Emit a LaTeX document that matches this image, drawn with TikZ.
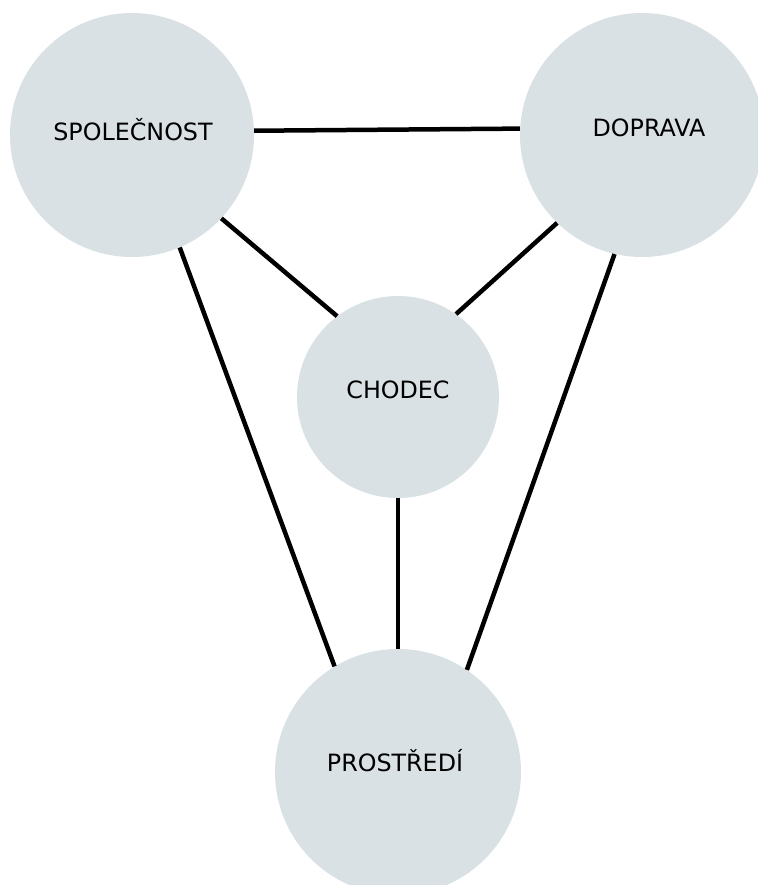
\documentclass[tikz,border=0pt]{standalone}
\usepackage{fontspec}
\setmainfont{DejaVu Sans}
\definecolor{discfill}{RGB}{218,225,229}
\begin{document}
\begin{tikzpicture}[x=1bp,y=-1bp,
  disc/.style={circle, fill=discfill, draw=none, inner sep=0pt, minimum size=#1},
  caption/.style={anchor=base, inner sep=0pt, font=\fontsize{23.8bp}{28bp}\selectfont},
  link/.style={line width=4.5bp, black, line cap=butt}]
  \useasboundingbox (0,0) rectangle (758,885);
  % the four circles
  \node[disc=244bp] (spol) at (132,135) {};
  \node[disc=244bp] (dop) at (642,135) {};
  \node[disc=202bp] (chod) at (398,397) {};
  \node[disc=246bp] (prost) at (398,772) {};
  % their captions
  \node[caption] (spol-t) at (133,140) {SPOLEČNOST};
  \node[caption] (dop-t) at (649,136) {DOPRAVA};
  \node[caption] (chod-t) at (398,398) {CHODEC};
  \node[caption] (prost-t) at (395,771) {PROSTŘEDÍ};
  % connections between the circles
  \draw[link] (spol.2.3) -- (dop.177.7);
  \draw[link] (spol.-43.6) -- (chod.127.2);
  \draw[link] (dop.-134) -- (chod.55.6);
  \draw[link] (spol.-67.8) -- (prost.121.2);
  \draw[link] (dop.-103) -- (prost.56.7);
  \draw[link] (chod.-90) -- (prost.90);
\end{tikzpicture}
\end{document}
